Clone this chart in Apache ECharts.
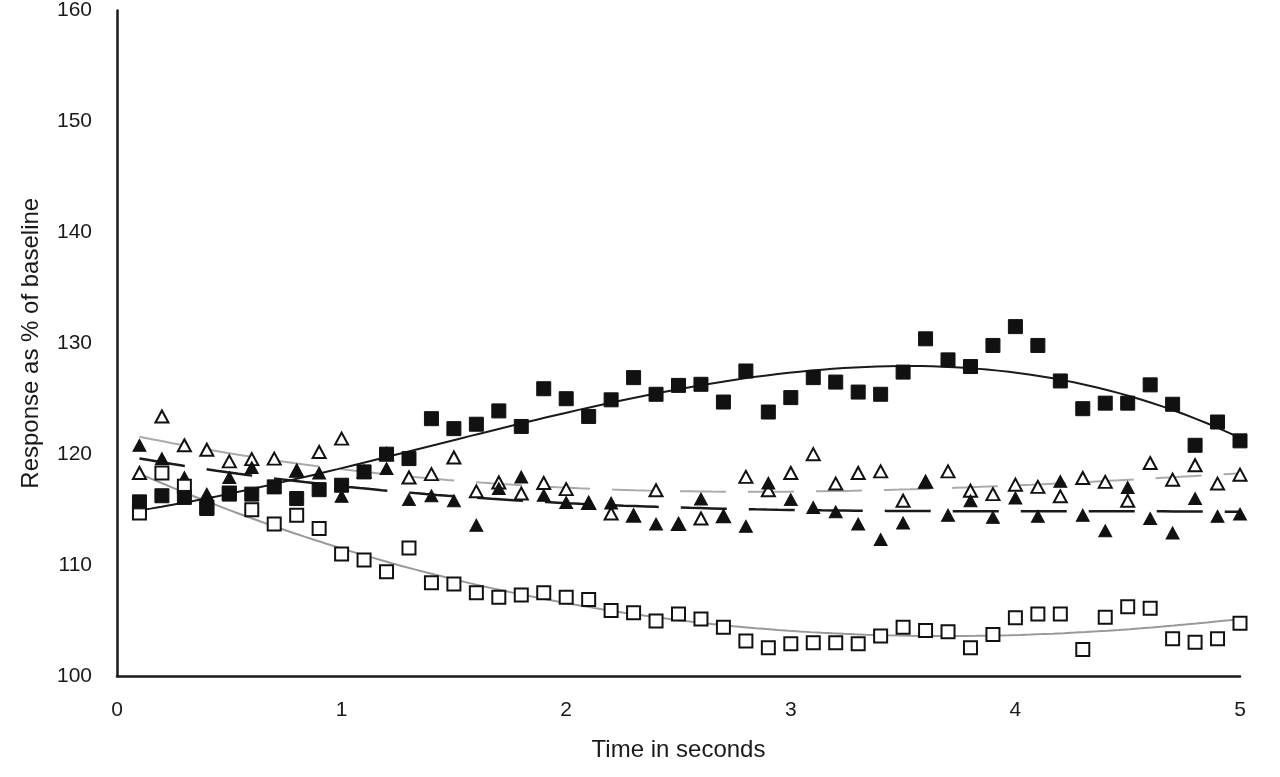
<!DOCTYPE html>
<html>
<head>
<meta charset="utf-8">
<script src="https://cdn.jsdelivr.net/npm/echarts@6/dist/echarts.min.js"></script>
<style>
  html, body { margin: 0; padding: 0; background: #fff; }
  #chart { width: 1280px; height: 777px; }
</style>
</head>
<body>
<div id="chart"></div>
<script>
// time points (s)
const time = [
  0.1, 0.2, 0.3, 0.4, 0.5, 0.6, 0.7, 0.8, 0.9, 1.0,
  1.1, 1.2, 1.3, 1.4, 1.5, 1.6, 1.7, 1.8, 1.9, 2.0,
  2.1, 2.2, 2.3, 2.4, 2.5, 2.6, 2.7, 2.8, 2.9, 3.0,
  3.1, 3.2, 3.3, 3.4, 3.5, 3.6, 3.7, 3.8, 3.9, 4.0,
  4.1, 4.2, 4.3, 4.4, 4.5, 4.6, 4.7, 4.8, 4.9, 5.0
];

const filledSquares = [
  115.7, 116.25, 116.1, 115.1, 116.4, 116.4, 117.05, 116.0, 116.8, 117.2,
  118.4, 120.0, 119.6, 123.2, 122.3, 122.7, 123.9, 122.5, 125.9, 125.0,
  123.4, 124.9, 126.9, 125.4, 126.2, 126.3, 124.7, 127.5, 123.8, 125.1,
  126.9, 126.5, 125.6, 125.4, 127.4, 130.4, 128.5, 127.9, 129.8, 131.5,
  129.8, 126.6, 124.1, 124.6, 124.6, 126.25, 124.5, 120.8, 122.9, 121.2
];

const openSquares = [
  114.7, 118.3, 117.1, 115.2, 116.5, 115.0, 113.7, 114.5, 113.3, 111.0,
  110.45, 109.4, 111.55, 108.4, 108.3, 107.5, 107.1, 107.3, 107.5, 107.1,
  106.9, 105.9, 105.7, 104.95, 105.6, 105.15, 104.4, 103.15, 102.55, 102.9,
  103.0, 103.0, 102.9, 103.6, 104.4, 104.1, 104.0, 102.55, 103.75, 105.25,
  105.6, 105.6, 102.4, 105.3, 106.25, 106.1, 103.35, 103.05, 103.35, 104.75
];

const filledTriangles = [
  120.8, 119.6, 117.9, 116.4, 117.9, 118.8, 117.0, 118.5, 118.3, 116.2,
  118.4, 118.7, 115.9, 116.25, 115.8, 113.6, 116.9, 117.95, 116.3, 115.65,
  115.6, 115.6, 114.5, 113.7, 113.7, 115.95, 114.4, 113.5, 117.4, 115.9,
  115.2, 114.8, 113.7, 112.3, 113.8, 117.5, 114.5, 115.8, 114.3, 116.05,
  114.4, 117.55, 114.5, 113.1, 117.0, 114.2, 112.9, 116.0, 114.4, 114.6
];

const openTriangles = [
  118.3, 123.4, 120.8, 120.4, 119.35, 119.55, 119.6, 118.5, 120.2, 121.4,
  118.4, 120.0, 117.9, 118.2, 119.7, 116.65, 117.45, 116.45, 117.4, 116.85,
  115.6, 114.65, 114.45, 116.75, 113.7, 114.2, 114.4, 117.95, 116.75, 118.3,
  120.0, 117.35, 118.3, 118.45, 115.8, 117.5, 118.45, 116.7, 116.4, 117.25,
  117.05, 116.2, 117.85, 117.5, 115.8, 119.2, 117.7, 119.0, 117.35, 118.15
];

const xTicks = [0, 1, 2, 3, 4, 5];
const yTicks = [100, 110, 120, 130, 140, 150, 160];

// least squares polynomial fit (like a spreadsheet trendline)
function polyfit(xs, ys, order) {
  const n = order + 1;
  const A = [];
  for (let i = 0; i < n; i++) {
    A.push(new Array(n + 1).fill(0));
  }
  for (let k = 0; k < xs.length; k++) {
    for (let i = 0; i < n; i++) {
      for (let j = 0; j < n; j++) A[i][j] += Math.pow(xs[k], i + j);
      A[i][n] += ys[k] * Math.pow(xs[k], i);
    }
  }
  for (let c = 0; c < n; c++) {
    let p = c;
    for (let r = c + 1; r < n; r++) if (Math.abs(A[r][c]) > Math.abs(A[p][c])) p = r;
    [A[c], A[p]] = [A[p], A[c]];
    for (let r = 0; r < n; r++) {
      if (r === c) continue;
      const f = A[r][c] / A[c][c];
      for (let j = c; j <= n; j++) A[r][j] -= f * A[c][j];
    }
  }
  return A.map((row, i) => row[n] / A[i][i]);
}

function trendData(ys) {
  const coef = polyfit(time, ys, 3);
  const x0 = time[0], x1 = time[time.length - 1];
  const out = [];
  for (let i = 0; i <= 100; i++) {
    const x = x0 + (x1 - x0) * i / 100;
    let y = 0;
    coef.forEach((c, p) => { y += c * Math.pow(x, p); });
    out.push([x, y]);
  }
  return out;
}

const pts = (ys) => time.map((t, i) => [t, ys[i]]);

const chart = echarts.init(document.getElementById('chart'));

const lineBase = { type: 'line', showSymbol: false, smooth: false, silent: true, z: 2 };
const textStyle = { fontFamily: 'Liberation Sans', color: '#1a1a1a' };

const option = {
  animation: false,
  backgroundColor: '#fff',
  grid: { left: 117, right: 40, top: 5, bottom: 101 },
  xAxis: {
    type: 'value',
    min: 0,
    max: 5,
    interval: 1,
    name: 'Time in seconds',
    nameLocation: 'middle',
    nameGap: 62,
    nameTextStyle: Object.assign({ fontSize: 24 }, textStyle),
    axisLine: { lineStyle: { color: '#1a1a1a', width: 2.5 } },
    axisTick: { show: false },
    splitLine: { show: false },
    axisLabel: Object.assign({
      margin: 24,
      fontSize: 21,
      formatter: (v) => (xTicks.includes(v) ? String(v) : '')
    }, textStyle)
  },
  yAxis: {
    type: 'value',
    min: 100,
    max: 160,
    interval: 10,
    name: 'Response as % of baseline',
    nameLocation: 'middle',
    nameGap: 74,
    nameTextStyle: Object.assign({ fontSize: 24 }, textStyle),
    axisLine: { show: true, lineStyle: { color: '#1a1a1a', width: 2.5 } },
    axisTick: { show: false },
    splitLine: { show: false },
    axisLabel: Object.assign({
      margin: 25,
      fontSize: 21,
      formatter: (v) => (yTicks.includes(v) ? String(v) : '')
    }, textStyle)
  },
  series: [
    Object.assign({}, lineBase, {
      data: trendData(openTriangles),
      lineStyle: { color: '#aaaaaa', width: 2, type: [46, 22] }
    }),
    Object.assign({}, lineBase, {
      data: trendData(filledTriangles),
      lineStyle: { color: '#1a1a1a', width: 2.5, type: [46, 22] }
    }),
    Object.assign({}, lineBase, {
      data: trendData(openSquares),
      lineStyle: { color: '#999999', width: 2 }
    }),
    Object.assign({}, lineBase, {
      data: trendData(filledSquares),
      lineStyle: { color: '#1a1a1a', width: 2 }
    }),
    {
      type: 'scatter',
      data: pts(openTriangles),
      symbol: 'triangle',
      symbolSize: [13, 12],
      itemStyle: { color: '#fff', borderColor: '#111', borderWidth: 2, opacity: 1 },
      z: 3
    },
    {
      type: 'scatter',
      data: pts(filledTriangles),
      symbol: 'triangle',
      symbolSize: [13, 12],
      itemStyle: { color: '#111', borderColor: '#111', borderWidth: 1, opacity: 1 },
      z: 4
    },
    {
      type: 'scatter',
      data: pts(openSquares),
      symbol: 'rect',
      symbolSize: 13,
      itemStyle: { color: '#fff', borderColor: '#111', borderWidth: 2, opacity: 1 },
      z: 5
    },
    {
      type: 'scatter',
      data: pts(filledSquares),
      symbol: 'rect',
      symbolSize: 14,
      itemStyle: { color: '#111', borderColor: '#111', borderWidth: 1, opacity: 1 },
      z: 6
    }
  ]
};

chart.setOption(option);
</script>
</body>
</html>
